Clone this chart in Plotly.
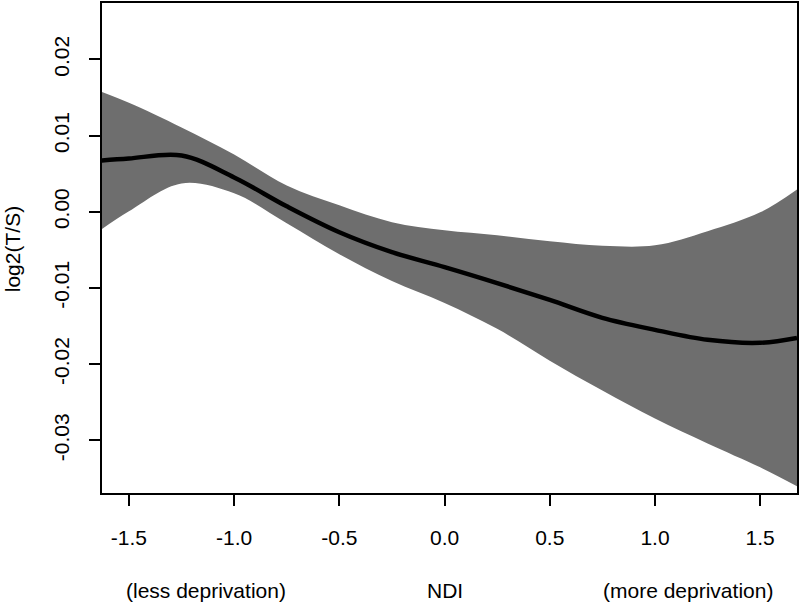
import plotly.graph_objects as go

# NDI values (x)
ndi = [-1.63, -1.5, -1.25, -1.0, -0.75, -0.5, -0.25, 0.0, 0.25, 0.5, 0.75, 1.0, 1.25, 1.5, 1.675]
# fitted log2(T/S)
fit = [0.00673, 0.00699, 0.00739, 0.00451, 0.00072, -0.00268, -0.00529, -0.00725,
       -0.00935, -0.01157, -0.01392, -0.01549, -0.01680, -0.01719, -0.01654]
# upper confidence bound
upper = [0.01575, 0.01431, 0.01107, 0.00752, 0.00346, 0.00085, -0.00137, -0.00242,
         -0.00307, -0.00386, -0.00446, -0.00440, -0.00255, -0.00007, 0.00294]
# lower confidence bound
lower = [-0.00229, 0.00007, 0.00373, 0.00242, -0.00150, -0.00556, -0.00908, -0.01196,
         -0.01536, -0.01954, -0.02346, -0.02712, -0.03039, -0.03353, -0.03601]

x_ticks = [-1.5, -1.0, -0.5, 0.0, 0.5, 1.0, 1.5]
x_tick_text = ["-1.5", "-1.0", "-0.5", "0.0", "0.5", "1.0", "1.5"]
y_ticks = [-0.03, -0.02, -0.01, 0.0, 0.01, 0.02]
y_tick_text = ["-0.03", "-0.02", "-0.01", "0.00", "0.01", "0.02"]

FONT = "Liberation Sans, Arial, Helvetica, sans-serif"
BAND = "rgb(110,110,110)"

fig = go.Figure()
fig.add_trace(go.Scatter(x=ndi, y=lower, mode="lines", line=dict(width=0, color=BAND, shape="spline"),
                         hoverinfo="skip", showlegend=False))
fig.add_trace(go.Scatter(x=ndi, y=upper, mode="lines", line=dict(width=0, color=BAND, shape="spline"),
                         fill="tonexty", fillcolor=BAND, hoverinfo="skip", showlegend=False))
fig.add_trace(go.Scatter(x=ndi, y=fit, mode="lines", line=dict(width=4.5, color="black", shape="spline"),
                         showlegend=False))

fig.update_layout(
    width=800, height=604,
    margin=dict(l=102, r=1, t=1, b=111),
    paper_bgcolor="white", plot_bgcolor="white",
    font=dict(family=FONT, size=20, color="black"),
    xaxis=dict(range=[-1.628, 1.675], tickvals=x_ticks, ticktext=x_tick_text,
               showgrid=False, zeroline=False, showline=True, linecolor="black", linewidth=2,
               mirror=True, ticks="outside", ticklen=11, tickwidth=2, tickcolor="black",
               ticklabelstandoff=14, tickfont=dict(size=21)),
    yaxis=dict(range=[-0.0369, 0.0274], tickvals=y_ticks, ticktext=y_tick_text,
               showgrid=False, zeroline=False, showline=True, linecolor="black", linewidth=2,
               mirror=True, ticks="outside", ticklen=11, tickwidth=2, tickcolor="black",
               tickangle=-90, ticklabelstandoff=12, tickfont=dict(size=21)),
    annotations=[
        dict(text="(less deprivation)", x=-1.135, y=-0.199, xref="x", yref="paper",
             showarrow=False, xanchor="center", yanchor="middle", font=dict(size=21)),
        dict(text="NDI", x=0.0, y=-0.199, xref="x", yref="paper",
             showarrow=False, xanchor="center", yanchor="middle", font=dict(size=21)),
        dict(text="(more deprivation)", x=1.159, y=-0.199, xref="x", yref="paper",
             showarrow=False, xanchor="center", yanchor="middle", font=dict(size=21)),
        dict(text="log2(T/S)", x=-0.1277, y=0.498, xref="paper", yref="paper", textangle=-90,
             showarrow=False, xanchor="center", yanchor="middle", font=dict(size=21)),
    ],
)

fig.write_html("out.html", config={"displayModeBar": False},
               post_script="document.body.style.margin='0';document.body.style.overflow='hidden';")
